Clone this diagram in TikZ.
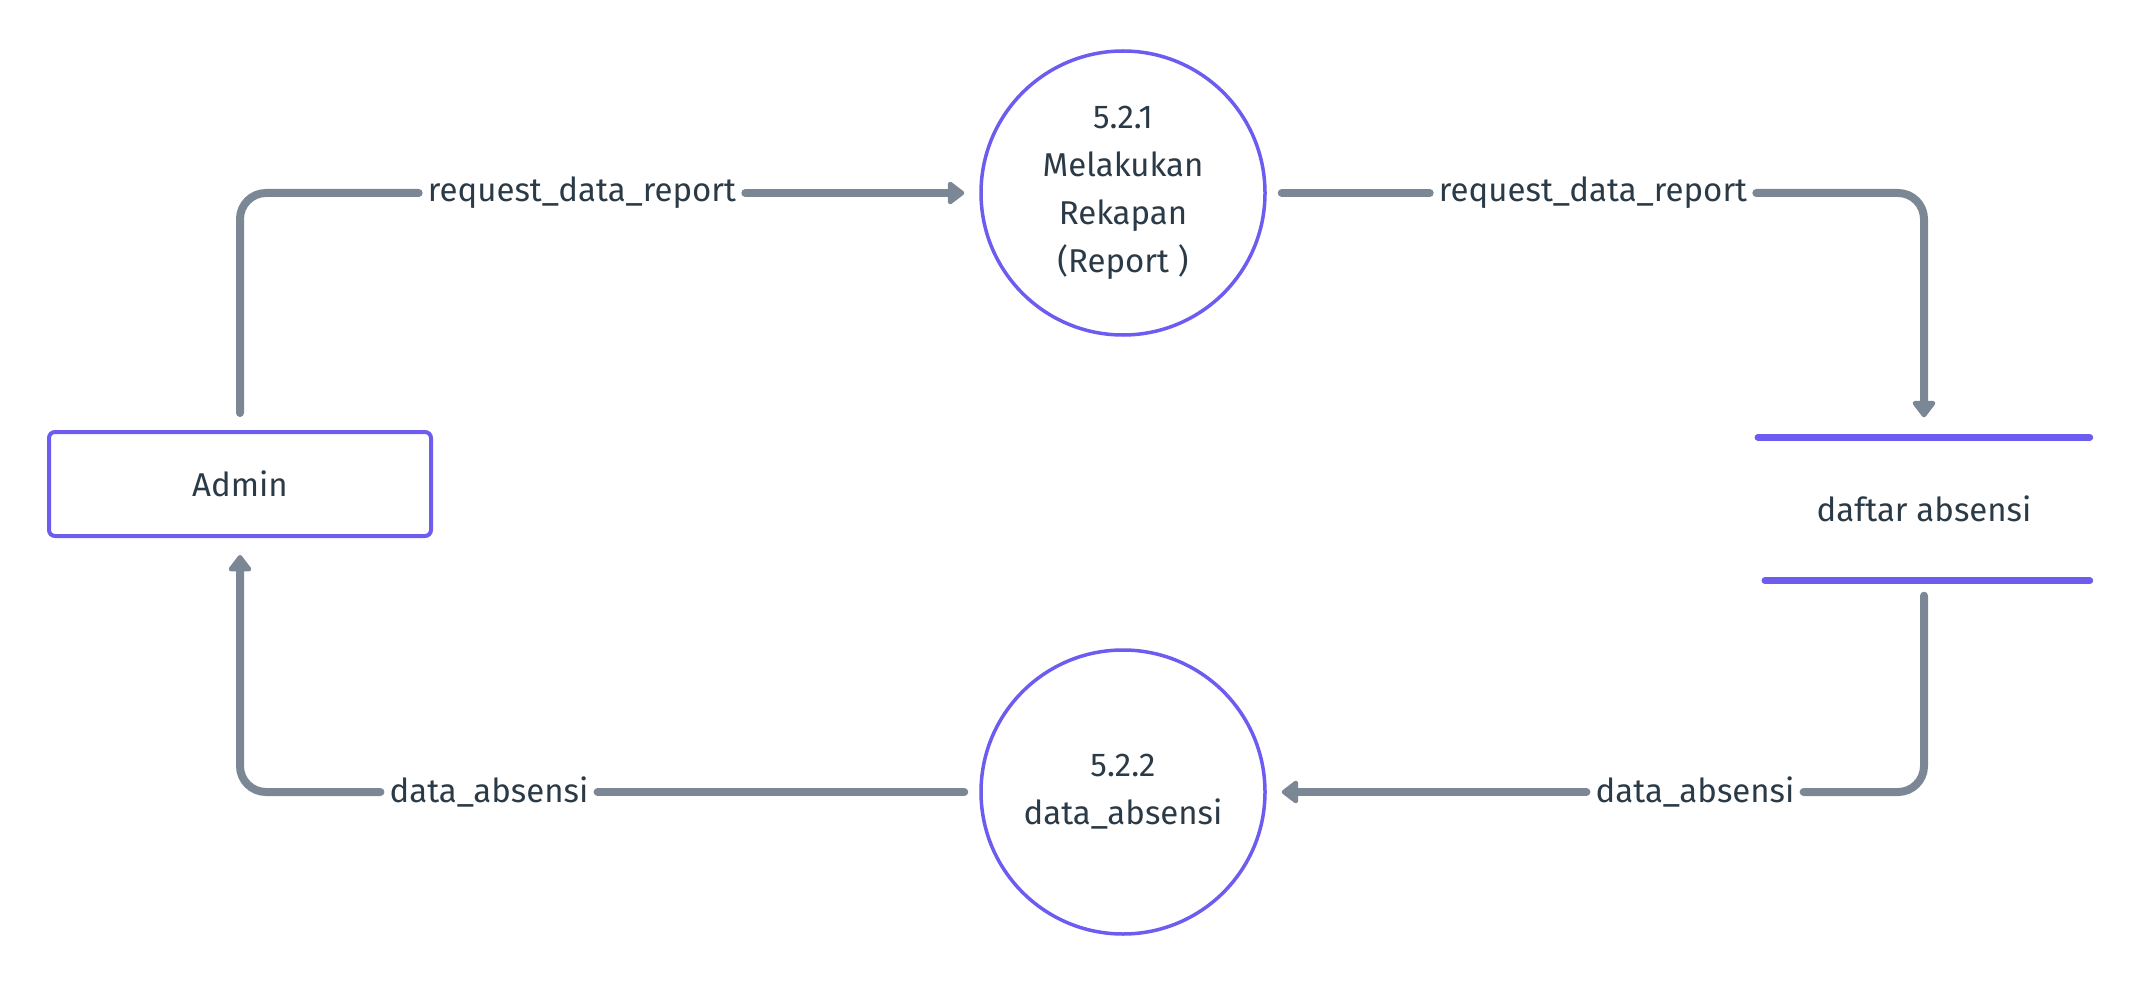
\documentclass[tikz,border=0pt]{standalone}
\usepackage{fontspec}
\setmainfont{Fira Sans}
\usetikzlibrary{arrows.meta}
\definecolor{pur}{HTML}{6C5CF0}
\definecolor{flowc}{HTML}{7B8794}
\definecolor{txt}{HTML}{2B3A47}
\begin{document}
\begin{tikzpicture}[x=1pt,y=-1pt,
  every node/.style={text=txt,font=\fontsize{33}{48}\selectfont},
  proc/.style={circle,draw=pur,line width=3.5pt,minimum size=284pt,align=center,inner sep=0pt},
  ent/.style={rectangle,draw=pur,line width=4pt,rounded corners=6pt,minimum width=382pt,minimum height=104pt},
  store/.style={rectangle,minimum width=331pt,minimum height=143pt},
  storeline/.style={draw=pur,line width=7pt,line cap=round},
  flowline/.style={draw=flowc,line width=8pt,line cap=round,rounded corners=26pt},
  flow/.style={flowline,-{Triangle[width=26pt,length=18pt,round]}},
  lbl/.style={inner xsep=9pt,inner ysep=2pt}]
\useasboundingbox (0,0) rectangle (2144,984);
\node[ent] (admin) at (240,484) {Admin};
\node[proc] (p1) at (1123,193) {5.2.1\\Melakukan\\Rekapan\\(Report )};
\node[proc] (p2) at (1123,792) {5.2.2\\data\_absensi};
\node[store] (ds) at (1924,509) {daftar absensi};
\draw[storeline] ([xshift=-166pt]ds.north) -- (ds.north east);
\draw[storeline] ([xshift=-159pt]ds.south) -- (ds.south east);
\node[lbl] (l1) at (582,193) {request\_data\_report};
\node[lbl] (l2) at (1593,193) {request\_data\_report};
\node[lbl] (l3) at (1695,792) {data\_absensi};
\node[lbl] (l4) at (489,792) {data\_absensi};
\draw[flowline,shorten <=17pt] (admin.north) |- (l1.west);
\draw[flow,shorten >=15pt] (l1.east) -- (p1.west);
\draw[flowline,shorten <=15pt] (p1.east) -- (l2.west);
\draw[flow,shorten >=20pt] (l2.east) -| (ds.north);
\draw[flowline,shorten <=15pt] (ds.south) |- (l3.east);
\draw[flow,shorten >=15pt] (l3.west) -- (p2.east);
\draw[flowline,shorten <=15pt] (p2.west) -- (l4.east);
\draw[flow,shorten >=17pt] (l4.west) -| (admin.south);
\end{tikzpicture}
\end{document}
